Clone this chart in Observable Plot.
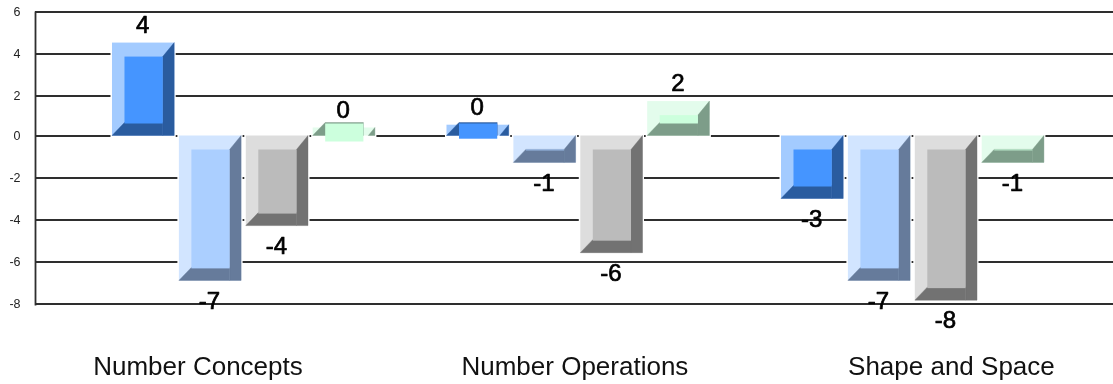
<!DOCTYPE html>
<html>
<head>
<meta charset="utf-8">
<style>
html,body{margin:0;padding:0;background:#fff;overflow:hidden}
svg{display:block;filter:blur(0.45px)}
</style>
<script src="https://cdn.jsdelivr.net/npm/d3@7"></script>
<script src="https://cdn.jsdelivr.net/npm/@observablehq/plot@0.6"></script>
</head>
<body>
<div id="chart"></div>
<script>
const categories = ["Number Concepts", "Number Operations", "Shape and Space"];
const seriesNames = ["A", "B", "C", "D"];
const seriesA = [4.52, 0.54, -3.0];
const seriesB = [-6.9, -1.28, -6.9];
const seriesC = [-4.29, -5.58, -7.84];
const seriesD = [0.4, 1.72, -1.28];
const labelsA = ["4", "0", "-3"];
const labelsB = ["-7", "-1", "-7"];
const labelsC = ["-4", "-6", "-8"];
const labelsD = ["0", "2", "-1"];
const yTicks = [6, 4, 2, 0, -2, -4, -6, -8];

// Bevel palette per series: [light edge, face, dark edge]
const palette = {
  A: ["#a3cbff", "#4595ff", "#2a5c9f"],
  B: ["#d2e5ff", "#abcfff", "#667b9b"],
  C: ["#dddddd", "#bbbbbb", "#727272"],
  D: ["#e3fcec", "#ccffdd", "#7d9d89"]
};

const seriesValues = {A: seriesA, B: seriesB, C: seriesC, D: seriesD};
const seriesLabels = {A: labelsA, B: labelsB, C: labelsC, D: labelsD};
const rows = categories.flatMap((c, ci) =>
  seriesNames.map((s, si) => ({category: c, series: s, slot: `${ci}-${si}`, value: seriesValues[s][ci], label: seriesLabels[s][ci]})));

// Four bar slots per category, one empty slot between categories
const slots = categories.flatMap((c, ci) => [
  ...seriesNames.map((s, si) => `${ci}-${si}`),
  ...(ci < categories.length - 1 ? [`gap-${ci}`] : [])
]);

// Draws the bevelled faces on top of each bar rectangle the library has positioned
function bevel(index, scales, values, dims, context, next) {
  const g = next(index, scales, values, dims, context);
  const rects = Array.from(g.querySelectorAll("rect"));
  const NS = "http://www.w3.org/2000/svg";
  rects.forEach((r, i) => {
    const d = rows[index[i]];
    const [light, face, dark] = palette[d.series];
    const x = +r.getAttribute("x"), y = +r.getAttribute("y");
    const w = +r.getAttribute("width"), h = +r.getAttribute("height");
    const X = x + w, Y = y + h, b = 12.5, bt = 14, br = 11.5, bb = 12, depth = 13;
    const parent = r.parentNode;
    const add = (tag, attrs) => {
      const el = document.createElementNS(NS, tag);
      for (const k in attrs) el.setAttribute(k, attrs[k]);
      parent.appendChild(el);
    };
    r.setAttribute("fill", light);
    r.setAttribute("stroke", "#fff");
    r.setAttribute("stroke-width", 3);
    add("rect", {x, y, width: w, height: h, fill: light});
    const rightPts = y + bt > Y
      ? `${X},${y} ${X},${Y} ${X - br * (Y - y) / bt},${Y}`
      : `${X},${y} ${X},${Y} ${X - br},${Y} ${X - br},${y + bt}`;
    add("polygon", {fill: dark, stroke: dark, "stroke-width": 0.4, points: rightPts});
    add("polygon", {fill: dark, stroke: dark, "stroke-width": 0.4, points: `${x},${Y} ${X - br},${Y} ${X - br},${Y - depth} ${x + b},${Y - depth}`});
    const t = Math.min(y + bt, Y - bb), u = Math.max(y + bt, Y - bb);
    add("rect", {x: x + b, y: t, width: w - b - br, height: u - t, fill: face});
  });
  return g;
}

const font = "Liberation Sans, Arial, sans-serif";
const categoryLabel = (name, slot, dx) =>
  Plot.text([name], {x: () => slot, frameAnchor: "bottom", dy: 70, dx, fontSize: 26, fill: "#111", fontFamily: font});
const valueLabels = (subset, dy) =>
  Plot.text(subset, {x: "slot", y: "value", text: "label", dy, dx: -1, fontSize: 24, fill: "#000", stroke: "#000", strokeWidth: 0.7, fontFamily: font});

const chart = Plot.plot({
  width: 1113,
  height: 384,
  marginTop: 12,
  marginBottom: 80,
  marginLeft: 35,
  marginRight: 0,
  style: {background: "#fff"},
  x: {type: "band", domain: slots, range: [107.3, 1048.6], padding: 0.07, round: false, axis: null},
  y: {type: "linear", domain: [6, 2, 0, -8], range: [11.5, 95.5, 135.5, 303.5], axis: null},
  marks: [
    Plot.ruleY(yTicks, {stroke: "#2e2e2e", strokeWidth: 1.8}),
    Plot.frame({anchor: "left", stroke: "#2e2e2e", strokeWidth: 1.8}),
    Plot.axisY({ticks: yTicks, tickSize: 0, tickPadding: 0, dx: -15, tickFormat: d => String(d), fontSize: 12.5, fill: "#222", fontFamily: font, label: null}),
    Plot.barY(rows, {x: "slot", y: "value", fill: "#ccc", render: bevel}),
    valueLabels(rows.filter(d => d.value >= 0), -18),
    valueLabels(rows.filter(d => d.value < 0), 20),
    categoryLabel(categories[0], "0-1", -12.5),
    categoryLabel(categories[1], "1-2", -37),
    categoryLabel(categories[2], "2-2", 5)
  ]
});
document.getElementById("chart").appendChild(chart);
</script>
</body>
</html>
